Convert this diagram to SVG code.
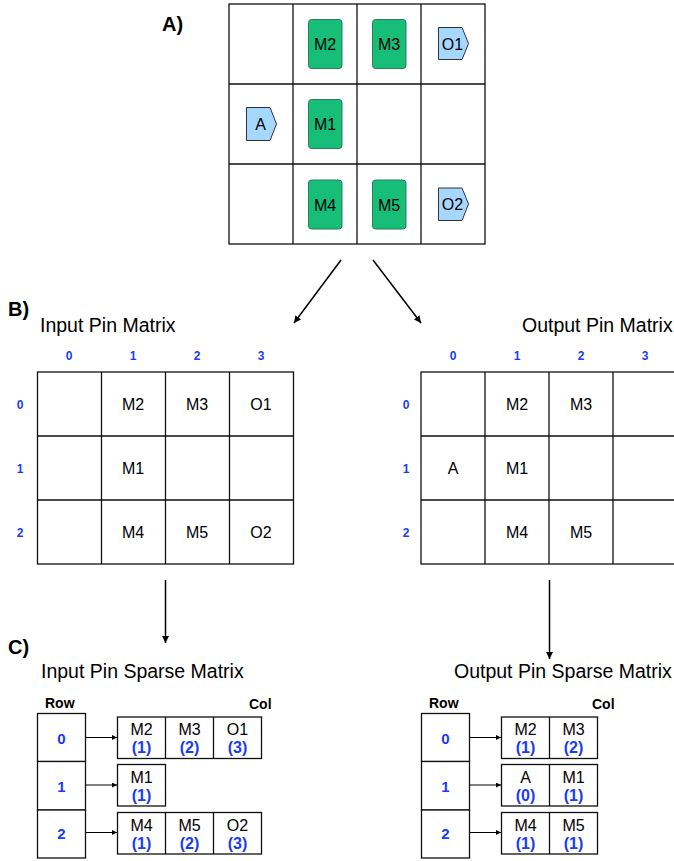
<svg xmlns="http://www.w3.org/2000/svg" width="674" height="861" viewBox="0 0 674 861">
<style>
text{font-family:"Liberation Sans",Arial,sans-serif;fill:#000}
.cell{fill:#fff;stroke:#111;stroke-width:1.3}
.mod{fill:#16be78;stroke:#2f7d5a;stroke-width:1}
.pin{fill:#a6d8ff;stroke:#333;stroke-width:1}
.lbl{font-size:16px;text-anchor:middle}
.sec{font-size:20px;font-weight:bold}
.title{font-size:19.5px}
.hdr{font-size:12px;font-weight:bold;fill:#1a3cf5;text-anchor:middle}
.rn{font-size:15px;font-weight:bold;fill:#1a3cf5;text-anchor:middle}
.idx{font-size:16px;font-weight:bold;fill:#1a3cf5;text-anchor:middle}
.rc{font-size:14px;font-weight:bold}
.conn{stroke:#000;stroke-width:1.5;fill:none}
.small{stroke:#000;stroke-width:1;fill:none}
</style>
<defs>
<marker id="ah" viewBox="0 0 10 10" refX="10" refY="5" markerWidth="7" markerHeight="7" orient="auto" markerUnits="userSpaceOnUse">
<path d="M0,0 L10,5 L0,10 z" fill="#000"/>
</marker>
<marker id="ahs" viewBox="0 0 10 10" refX="10" refY="5" markerWidth="6" markerHeight="5" orient="auto" markerUnits="userSpaceOnUse">
<path d="M0,0 L10,5 L0,10 z" fill="#000"/>
</marker>
</defs>

<!-- Section labels -->
<text class="sec" x="162" y="31">A)</text>
<text class="sec" x="8" y="316">B)</text>
<text class="sec" x="8" y="654">C)</text>

<!-- A) placement grid -->
<g id="gridA">
<rect class="cell" x="229" y="4" width="256" height="240"/>
<path class="cell" d="M293,4V244M357,4V244M421,4V244M229,84H485M229,164H485"/>
</g>
<g id="M2"><rect class="mod" x="308.5" y="19.5" width="33.5" height="49" rx="3"/><text class="lbl" x="325" y="50">M2</text></g>
<g id="M3"><rect class="mod" x="372.5" y="19.5" width="33.5" height="49" rx="3"/><text class="lbl" x="389" y="50">M3</text></g>
<g id="M1"><rect class="mod" x="308.5" y="99.5" width="33.5" height="49" rx="3"/><text class="lbl" x="325" y="130">M1</text></g>
<g id="M4"><rect class="mod" x="308.5" y="180" width="33.5" height="49" rx="3"/><text class="lbl" x="325" y="210.5">M4</text></g>
<g id="M5"><rect class="mod" x="372.5" y="180" width="33.5" height="49" rx="3"/><text class="lbl" x="389" y="210.5">M5</text></g>
<g id="O1"><polygon class="pin" points="438.5,27.5 462,27.5 468.5,43.5 462,59.5 438.5,59.5"/><text class="lbl" x="452.5" y="49.5">O1</text></g>
<g id="A"><polygon class="pin" points="246.5,107.5 270,107.5 276.5,124 270,140.5 246.5,140.5"/><text class="lbl" x="260.5" y="130">A</text></g>
<g id="O2"><polygon class="pin" points="438.5,188 462,188 468.5,204 462,220.5 438.5,220.5"/><text class="lbl" x="452.5" y="210">O2</text></g>

<!-- B) Input Pin Matrix -->
<text class="title" x="40" y="332">Input Pin Matrix</text>
<g id="inputMatrix">
<rect class="cell" x="37.5" y="372" width="256" height="192"/>
<path class="cell" d="M101.5,372V564M165.5,372V564M229.5,372V564M37.5,436H293.5M37.5,500H293.5"/>
<text class="hdr" x="69" y="360">0</text>
<text class="hdr" x="133" y="360">1</text>
<text class="hdr" x="197" y="360">2</text>
<text class="hdr" x="261" y="360">3</text>
<text class="hdr" x="20" y="409">0</text>
<text class="hdr" x="20" y="473">1</text>
<text class="hdr" x="20" y="537">2</text>
<text class="lbl" x="133" y="410">M2</text>
<text class="lbl" x="197" y="410">M3</text>
<text class="lbl" x="261" y="410">O1</text>
<text class="lbl" x="133" y="474">M1</text>
<text class="lbl" x="133" y="538">M4</text>
<text class="lbl" x="197" y="538">M5</text>
<text class="lbl" x="261" y="538">O2</text>
</g>

<!-- B) Output Pin Matrix -->
<text class="title" x="522" y="332">Output Pin Matrix</text>
<g id="outputMatrix">
<rect class="cell" x="421" y="372" width="256" height="192"/>
<path class="cell" d="M485,372V564M549,372V564M613,372V564M421,436H677M421,500H677"/>
<text class="hdr" x="453" y="360">0</text>
<text class="hdr" x="517" y="360">1</text>
<text class="hdr" x="581" y="360">2</text>
<text class="hdr" x="645" y="360">3</text>
<text class="hdr" x="406" y="409">0</text>
<text class="hdr" x="406" y="473">1</text>
<text class="hdr" x="406" y="537">2</text>
<text class="lbl" x="517" y="410">M2</text>
<text class="lbl" x="581" y="410">M3</text>
<text class="lbl" x="453" y="474">A</text>
<text class="lbl" x="517" y="474">M1</text>
<text class="lbl" x="517" y="538">M4</text>
<text class="lbl" x="581" y="538">M5</text>
</g>

<!-- C) Input Pin Sparse Matrix -->
<text class="title" x="41" y="678">Input Pin Sparse Matrix</text>
<g id="inputSparse">
<text class="rc" x="45" y="708">Row</text>
<text class="rc" x="249" y="709">Col</text>
<rect class="cell" x="37.5" y="713.5" width="48" height="48"/>
<rect class="cell" x="37.5" y="761.5" width="48" height="48.5"/>
<rect class="cell" x="37.5" y="810" width="48" height="48"/>
<text class="rn" x="61.5" y="744">0</text>
<text class="rn" x="61.5" y="792">1</text>
<text class="rn" x="61.5" y="839">2</text>
<rect class="cell" x="117.5" y="717" width="144" height="41.5"/>
<path class="cell" d="M165.5,717V758.5M213.5,717V758.5"/>
<rect class="cell" x="117.5" y="764.5" width="48" height="41.5"/>
<rect class="cell" x="117.5" y="812.5" width="144" height="41.5"/>
<path class="cell" d="M165.5,812.5V854M213.5,812.5V854"/>
<text class="lbl" x="141.5" y="735">M2</text><text class="idx" x="141.5" y="753">(1)</text>
<text class="lbl" x="189.5" y="735">M3</text><text class="idx" x="189.5" y="753">(2)</text>
<text class="lbl" x="237.5" y="735">O1</text><text class="idx" x="237.5" y="753">(3)</text>
<text class="lbl" x="141.5" y="782.5">M1</text><text class="idx" x="141.5" y="800.5">(1)</text>
<text class="lbl" x="141.5" y="830.5">M4</text><text class="idx" x="141.5" y="848.5">(1)</text>
<text class="lbl" x="189.5" y="830.5">M5</text><text class="idx" x="189.5" y="848.5">(2)</text>
<text class="lbl" x="237.5" y="830.5">O2</text><text class="idx" x="237.5" y="848.5">(3)</text>
</g>

<!-- C) Output Pin Sparse Matrix -->
<text class="title" x="454" y="678">Output Pin Sparse Matrix</text>
<g id="outputSparse">
<text class="rc" x="429" y="708">Row</text>
<text class="rc" x="592" y="709">Col</text>
<rect class="cell" x="421.5" y="713.5" width="48" height="48"/>
<rect class="cell" x="421.5" y="761.5" width="48" height="48.5"/>
<rect class="cell" x="421.5" y="810" width="48" height="48"/>
<text class="rn" x="445.5" y="744">0</text>
<text class="rn" x="445.5" y="792">1</text>
<text class="rn" x="445.5" y="839">2</text>
<rect class="cell" x="501.5" y="717" width="96" height="41.5"/>
<path class="cell" d="M549.5,717V758.5"/>
<rect class="cell" x="501.5" y="764.5" width="96" height="41.5"/>
<path class="cell" d="M549.5,764.5V806"/>
<rect class="cell" x="501.5" y="812.5" width="96" height="41.5"/>
<path class="cell" d="M549.5,812.5V854"/>
<text class="lbl" x="525.5" y="735">M2</text><text class="idx" x="525.5" y="753">(1)</text>
<text class="lbl" x="573.5" y="735">M3</text><text class="idx" x="573.5" y="753">(2)</text>
<text class="lbl" x="525.5" y="782.5">A</text><text class="idx" x="525.5" y="800.5">(0)</text>
<text class="lbl" x="573.5" y="782.5">M1</text><text class="idx" x="573.5" y="800.5">(1)</text>
<text class="lbl" x="525.5" y="830.5">M4</text><text class="idx" x="525.5" y="848.5">(1)</text>
<text class="lbl" x="573.5" y="830.5">M5</text><text class="idx" x="573.5" y="848.5">(1)</text>
</g>

<!-- Connectors -->
<g id="connectors">
<line class="conn" x1="341" y1="260" x2="294" y2="323" marker-end="url(#ah)"/>
<line class="conn" x1="373" y1="260" x2="421" y2="323" marker-end="url(#ah)"/>
<line class="conn" x1="165.5" y1="580" x2="165.5" y2="643" marker-end="url(#ah)"/>
<line class="conn" x1="549.5" y1="580" x2="549.5" y2="659" marker-end="url(#ah)"/>
<line class="small" x1="86" y1="737.5" x2="117" y2="737.5" marker-end="url(#ahs)"/>
<line class="small" x1="86" y1="785" x2="117" y2="785" marker-end="url(#ahs)"/>
<line class="small" x1="86" y1="832.5" x2="117" y2="832.5" marker-end="url(#ahs)"/>
<line class="small" x1="470" y1="737.5" x2="501" y2="737.5" marker-end="url(#ahs)"/>
<line class="small" x1="470" y1="785" x2="501" y2="785" marker-end="url(#ahs)"/>
<line class="small" x1="470" y1="832.5" x2="501" y2="832.5" marker-end="url(#ahs)"/>
</g>
</svg>
